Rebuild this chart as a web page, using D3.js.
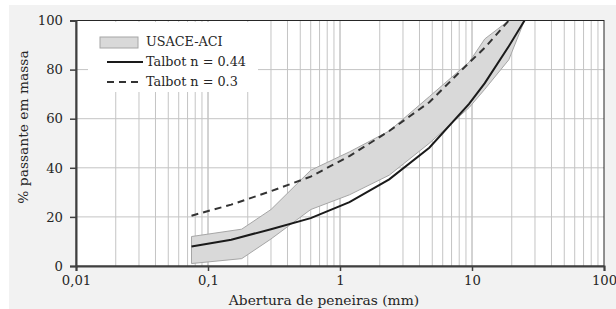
<!DOCTYPE html>
<html>
<head>
<meta charset="utf-8">
<script src="https://cdn.jsdelivr.net/npm/d3@7"></script>
<style>
  body { margin: 0; background: #fff; }
  svg { display: block; }
  text { font-family: "DejaVu Serif", serif; fill: #262626; }
</style>
</head>
<body>
<svg id="chart"></svg>
<script>
// sieve openings (mm)
var bandSizes = [0.075, 0.18, 0.3, 0.6, 1.18, 2.36, 4.75, 9.5, 12.5, 19, 25];
var bandUpper = [12, 15, 23, 39, 46.5, 55, 69, 83, 92.5, 100, 100];
var bandLower = [1, 3, 11, 23, 29, 37, 50, 64.5, 72, 84, 100];

var talbotSizes044 = [0.075, 0.15, 0.3, 0.6, 1.18, 2.36, 4.75, 9.5, 12.5, 19, 25];
var talbot044 = [7.9, 10.7, 15, 19.5, 26, 35.3, 48.2, 66, 74.5, 89.5, 100];

var talbotSizes03 = [0.075, 0.15, 0.3, 0.6, 1.18, 2.36, 4.75, 9.5, 12.5, 19];
var talbot03 = [20.5, 25, 30.5, 36.4, 44.8, 55, 66.7, 82.8, 88.9, 100];

var xTicks = [0.01, 0.1, 1, 10, 100];
var xTickLabels = ["0,01", "0,1", "1", "10", "100"];
var yTicks = [0, 20, 40, 60, 80, 100];

var legendLabels = ["USACE-ACI", "Talbot n = 0.44", "Talbot n = 0.3"];

var width = 616, height = 309;
var margin = { top: 20.5, right: 12, bottom: 43, left: 76 };

var svg = d3.select("#chart")
  .attr("width", width)
  .attr("height", height);

svg.append("rect")
  .attr("x", 9).attr("y", 5)
  .attr("width", width - 9).attr("height", height - 5)
  .attr("fill", "#f2f2f2");

var x = d3.scaleLog()
  .domain([0.01, 100])
  .range([margin.left, width - margin.right]);
var y = d3.scaleLinear()
  .domain([0, 100])
  .range([height - margin.bottom, margin.top]);

svg.append("rect")
  .attr("x", x(0.01)).attr("y", y(100))
  .attr("width", x(100) - x(0.01)).attr("height", y(0) - y(100))
  .attr("fill", "#fff");

// grid
var minor = [];
[0.01, 0.1, 1, 10].forEach(function(dec){
  for (var k = 1; k <= 10; k++) {
    if (dec == 0.01 && k == 1) continue;
    minor.push(dec * k);
  }
});
svg.append("g").selectAll("line")
  .data(minor.slice(0, -1))
  .enter().append("line")
  .attr("x1", function(d){ return x(d); })
  .attr("x2", function(d){ return x(d); })
  .attr("y1", y(0)).attr("y2", y(100))
  .attr("stroke", "#c4c4c4").attr("stroke-width", 1);
svg.append("g").selectAll("line")
  .data(yTicks.slice(1, -1))
  .enter().append("line")
  .attr("x1", x(0.01)).attr("x2", x(100))
  .attr("y1", function(d){ return y(d); })
  .attr("y2", function(d){ return y(d); })
  .attr("stroke", "#c4c4c4").attr("stroke-width", 1);

// band
var band = d3.area()
  .x(function(d, i){ return x(bandSizes[i]); })
  .y0(function(d, i){ return y(bandLower[i]); })
  .y1(function(d, i){ return y(bandUpper[i]); });
svg.append("path")
  .datum(bandSizes)
  .attr("d", band)
  .attr("fill", "#d9d9d9")
  .attr("stroke", "#a6a6a6")
  .attr("stroke-width", 1);

var line = function(sizes){
  return d3.line()
    .x(function(d, i){ return x(sizes[i]); })
    .y(function(d){ return y(d); });
};
svg.append("path")
  .datum(talbot044)
  .attr("d", line(talbotSizes044))
  .attr("fill", "none")
  .attr("stroke", "#1a1a1a")
  .attr("stroke-width", 2);
svg.append("path")
  .datum(talbot03)
  .attr("d", line(talbotSizes03))
  .attr("fill", "none")
  .attr("stroke", "#333")
  .attr("stroke-width", 2)
  .attr("stroke-dasharray", "7,5");

// frame
svg.append("rect")
  .attr("x", x(0.01)).attr("y", y(100))
  .attr("width", x(100) - x(0.01)).attr("height", y(0) - y(100))
  .attr("fill", "none").attr("stroke", "#262626").attr("stroke-width", 1);

// axes
var xAxis = svg.append("g")
  .attr("transform", "translate(0," + y(0) + ")")
  .call(d3.axisBottom(x)
    .tickValues(xTicks)
    .tickSize(5)
    .tickPadding(5)
    .tickFormat(function(d, i){ return xTickLabels[i]; }));
var yAxis = svg.append("g")
  .attr("transform", "translate(" + x(0.01) + ",0)")
  .call(d3.axisLeft(y)
    .tickValues(yTicks)
    .tickSize(6)
    .tickPadding(7));
[xAxis, yAxis].forEach(function(g){
  g.select(".domain").attr("stroke", "#404040").attr("stroke-width", 2);
  g.selectAll(".tick line").attr("stroke", "#404040").attr("stroke-width", 1.5);
  g.selectAll("text")
    .attr("font-family", "DejaVu Serif, serif")
    .attr("font-size", 13.2)
    .attr("fill", "#262626");
});

svg.append("text")
  .attr("x", 324).attr("y", 305)
  .attr("text-anchor", "middle")
  .attr("font-size", 13.8)
  .text("Abertura de peneiras (mm)");
svg.append("text")
  .attr("transform", "translate(24,127) rotate(-90)")
  .attr("text-anchor", "middle")
  .attr("dominant-baseline", "middle")
  .attr("font-size", 13.8)
  .text("% passante em massa");

// legend
var legend = svg.append("g");
legend.append("rect")
  .attr("x", 88).attr("y", 22)
  .attr("width", 170).attr("height", 70)
  .attr("fill", "#fff");
legend.append("rect")
  .attr("x", 100).attr("y", 37)
  .attr("width", 38).attr("height", 11)
  .attr("fill", "#d9d9d9").attr("stroke", "#a6a6a6");
legend.append("line")
  .attr("x1", 107).attr("x2", 143).attr("y1", 62).attr("y2", 62)
  .attr("stroke", "#1a1a1a").attr("stroke-width", 2);
legend.append("line")
  .attr("x1", 107).attr("x2", 143).attr("y1", 82).attr("y2", 82)
  .attr("stroke", "#333").attr("stroke-width", 2)
  .attr("stroke-dasharray", "7,5");
legend.selectAll("text.lab")
  .data(legendLabels)
  .enter().append("text")
  .attr("class", "lab")
  .attr("x", 146)
  .attr("y", function(d, i){ return 42 + i * 20; })
  .attr("dominant-baseline", "middle")
  .attr("font-size", 12.8)
  .text(function(d){ return d; });
</script>
</body>
</html>
